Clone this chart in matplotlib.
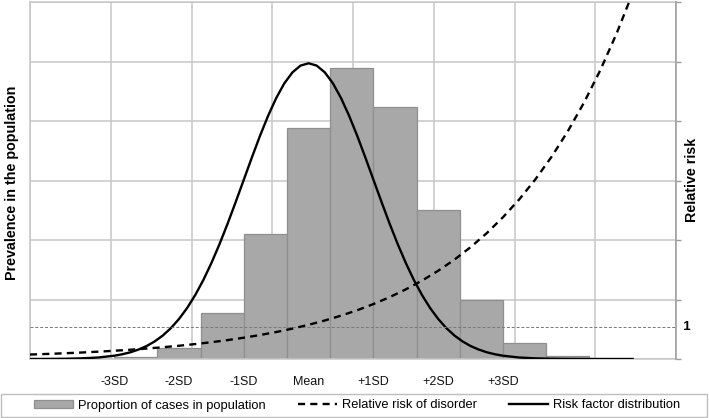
import numpy as np
import matplotlib
matplotlib.use("Agg")
import matplotlib.pyplot as plt
from matplotlib.patches import Rectangle, Patch
from matplotlib.lines import Line2D

plt.rcParams['font.family'] = ['Liberation Sans', 'DejaVu Sans']

# ---------------- data ----------------
# histogram: proportion of cases in population (left axis units), bins in SD units
bin_left = [-3.0, -2.333, -1.667, -1.0, -0.333, 0.333, 1.0, 1.667, 2.333, 3.0, 3.667]
bin_width = 0.667
case_prop = [0.03, 0.19, 0.77, 2.10, 3.88, 4.89, 4.23, 2.50, 1.00, 0.27, 0.05]

# risk factor distribution (left axis units)
rf_x = [-4.3, -4.0, -3.75, -3.5, -3.25, -3.0, -2.875, -2.75, -2.625, -2.5, -2.375, -2.25,
        -2.125, -2.0, -1.875, -1.75, -1.625, -1.5, -1.375, -1.25, -1.125, -1.0, -0.875,
        -0.75, -0.625, -0.5, -0.375, -0.25, -0.125, 0.0, 0.125, 0.25, 0.375, 0.5, 0.625,
        0.75, 0.875, 1.0, 1.125, 1.25, 1.375, 1.5, 1.625, 1.75, 1.875, 2.0, 2.125, 2.25,
        2.375, 2.5, 2.625, 2.75, 2.875, 3.0, 3.25, 3.5, 3.75, 4.0, 4.5, 5.0]
rf_y = [0.0004, 0.0017, 0.0044, 0.011, 0.025, 0.055, 0.080, 0.113, 0.159, 0.218, 0.296,
        0.395, 0.520, 0.673, 0.857, 1.075, 1.327, 1.614, 1.931, 2.275, 2.640, 3.014, 3.389,
        3.752, 4.088, 4.386, 4.633, 4.817, 4.931, 4.970, 4.931, 4.817, 4.633, 4.386, 4.088,
        3.752, 3.389, 3.014, 2.640, 2.275, 1.931, 1.614, 1.327, 1.075, 0.857, 0.673, 0.520,
        0.395, 0.296, 0.218, 0.159, 0.113, 0.080, 0.055, 0.025, 0.011, 0.0044, 0.0017,
        0.0002, 0.0]

# relative risk of disorder (right axis units)
rr_x = [-4.3, -4.0, -3.75, -3.5, -3.25, -3.0, -2.75, -2.5, -2.25, -2.0, -1.75, -1.5, -1.25,
        -1.0, -0.75, -0.5, -0.25, 0.0, 0.25, 0.5, 0.75, 1.0, 1.25, 1.5, 1.75, 2.0, 2.25,
        2.5, 2.75, 3.0, 3.25, 3.5, 3.75, 4.0, 4.25, 4.5, 4.75, 5.0]
rr_y = [0.138, 0.159, 0.179, 0.201, 0.227, 0.255, 0.287, 0.324, 0.364, 0.410, 0.462, 0.520,
        0.585, 0.659, 0.742, 0.835, 0.940, 1.059, 1.192, 1.342, 1.510, 1.700, 1.914, 2.155,
        2.426, 2.732, 3.075, 3.462, 3.897, 4.388, 4.939, 5.561, 6.260, 7.048, 7.935, 8.933,
        10.06, 11.32]

tick_pos = [-3, -2, -1, 0, 1, 2, 3]
tick_labels = ['-3SD', '-2SD', '-1SD', 'Mean', '+1SD', '+2SD', '+3SD']
rr_ref = 1

# ---------------- figure ----------------
W, H = 709, 418
fig = plt.figure(figsize=(W / 100, H / 100), dpi=100)
L, R, T, B = 30, 676, 2, 359
ax = fig.add_axes([L / W, 1 - B / H, (R - L) / W, (B - T) / H])
ax2 = ax.twinx()

xmin, xmax = -4.30, 5.67
grid_c = '#c6c6c6'

ax.set_xlim(xmin, xmax)
ax.set_ylim(0, 6)
ax2.set_ylim(0, 11.05)

# grid
ax.set_xticks(np.linspace(xmin, xmax, 9), minor=True)
ax.set_yticks(range(0, 7))
ax.set_yticklabels([])
ax.tick_params(axis='y', length=0)
ax.tick_params(axis='x', which='minor', length=0)
ax.grid(which='minor', axis='x', color=grid_c, lw=1.1)
ax.grid(which='major', axis='y', color=grid_c, lw=1.1)
ax.set_axisbelow(True)

ax.set_xticks(tick_pos)
ax.set_xticklabels(tick_labels, fontsize=9, color='#111111')
ax.tick_params(axis='x', which='major', length=0, pad=12)

for s in ['left', 'top', 'bottom']:
    ax.spines[s].set_color(grid_c)
    ax.spines[s].set_linewidth(1.1)
ax.spines['right'].set_visible(False)
for s in ['left', 'top', 'bottom']:
    ax2.spines[s].set_visible(False)
ax2.spines['right'].set_color('#9a9a9a')
ax2.spines['right'].set_linewidth(1.1)

# bars
ax.bar(bin_left, case_prop, width=bin_width, align='edge', color='#a8a8a8',
       edgecolor='#8f8f8f', linewidth=0.9, zorder=2)

# risk factor distribution
ax.plot(rf_x, rf_y, color='black', lw=1.7, zorder=3, solid_joinstyle='round')

# relative risk
ax2.axhline(rr_ref, color='#777777', lw=0.7, dashes=(3, 2))
ax2.plot(rr_x, rr_y, color='black', lw=1.7, dashes=(3, 2.2))

ax2.set_yticks(np.linspace(0, 11.05, 7))
ax2.set_yticklabels([])
ax2.tick_params(axis='y', direction='out', length=3.6, width=1.0, color='#9a9a9a')
ax2.text(1.0, rr_ref, '  1', transform=ax2.get_yaxis_transform(), ha='left', va='center',
         fontsize=9.5, fontweight='bold')

# axis titles
fig.text(12 / W, 1 - 183 / H, 'Prevalence in the population', rotation=90, ha='center',
         va='center', fontsize=10.3, fontweight='bold')
fig.text(692 / W, 1 - 180 / H, 'Relative risk', rotation=90, ha='center', va='center',
         fontsize=10.3, fontweight='bold')

# legend box
fig.patches.append(Rectangle((1 / W, 1 - 417 / H), 706 / W, 23 / H, transform=fig.transFigure,
                             fill=False, edgecolor='#bdbdbd', lw=1.0))
handles = [Patch(facecolor='#a8a8a8', edgecolor='#8f8f8f', lw=0.9),
           Line2D([], [], color='black', lw=1.7, dashes=(3, 2.2)),
           Line2D([], [], color='black', lw=1.7)]
labels = ['Proportion of cases in population', 'Relative risk of disorder',
          'Risk factor distribution']
fig.legend(handles, labels, loc='center', bbox_to_anchor=(357 / W, 1 - 405.5 / H), ncol=3,
           frameon=False, fontsize=9.3, handlelength=3.0, handleheight=0.5,
           handletextpad=0.4, columnspacing=2.5, borderpad=0)

fig.savefig('out.png', dpi=100)
